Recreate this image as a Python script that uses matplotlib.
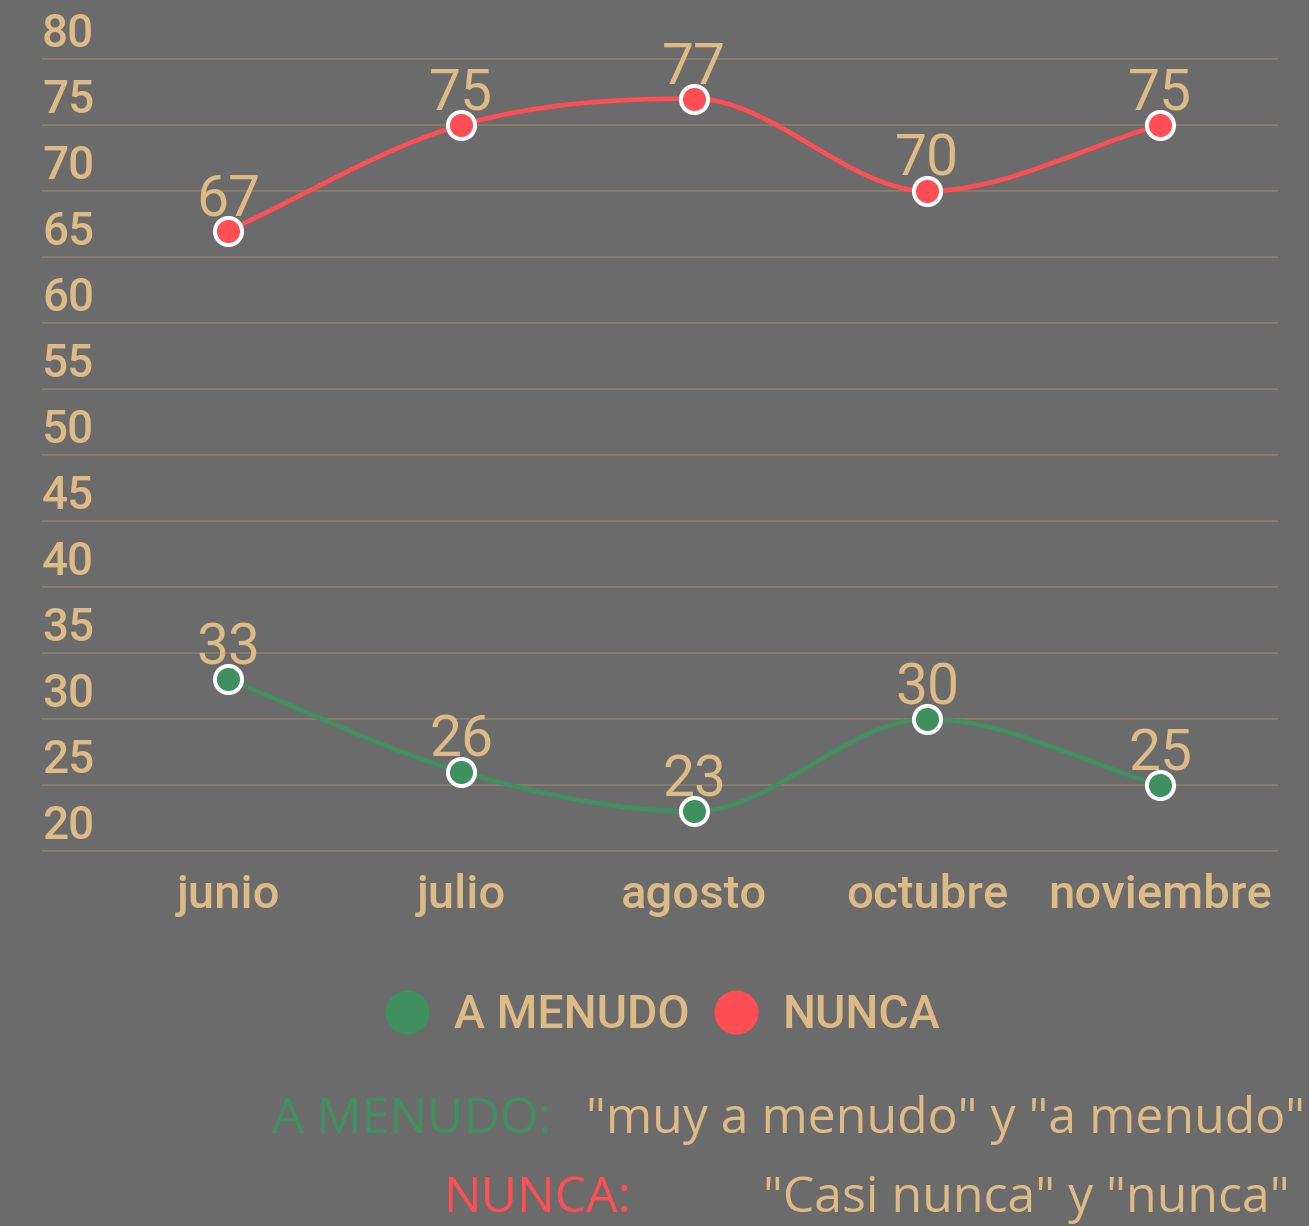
import numpy as np
import matplotlib
matplotlib.use("Agg")
import matplotlib.pyplot as plt
from matplotlib.path import Path
from matplotlib.patches import PathPatch
from matplotlib.lines import Line2D

# data
months = ["junio", "julio", "agosto", "octubre", "noviembre"]
a_menudo = [33, 26, 23, 30, 25]
nunca = [67, 75, 77, 70, 75]
y_ticks = list(range(20, 85, 5))

BG = "#6b6b6b"
TAN = "#dcbb87"
RED = "#ff4f55"
GREEN = "#3f8f5f"
GRID = "#877c6c"

W, H = 1309, 1226


def monotone_path(xs, ys):
    """Cubic bezier path with monotone tangents (Fritsch-Carlson)."""
    xs = np.asarray(xs, float); ys = np.asarray(ys, float)
    n = len(xs)
    dk = np.diff(ys) / np.diff(xs)
    m = np.zeros(n)
    m[0], m[-1] = dk[0], dk[-1]
    for i in range(1, n - 1):
        if dk[i - 1] == 0 or dk[i] == 0 or np.sign(dk[i - 1]) != np.sign(dk[i]):
            m[i] = 0.0
        else:
            m[i] = (dk[i - 1] + dk[i]) / 2
    for i in range(n - 1):
        if dk[i] == 0:
            m[i] = m[i + 1] = 0.0
            continue
        a, b = m[i] / dk[i], m[i + 1] / dk[i]
        s = a * a + b * b
        if s > 9:
            t = 3 / np.sqrt(s)
            m[i] = t * a * dk[i]
            m[i + 1] = t * b * dk[i]
    verts = [(xs[0], ys[0])]
    codes = [Path.MOVETO]
    for i in range(n - 1):
        dx = (xs[i + 1] - xs[i]) / 3
        verts += [(xs[i] + dx, ys[i] + m[i] * dx),
                  (xs[i + 1] - dx, ys[i + 1] - m[i + 1] * dx),
                  (xs[i + 1], ys[i + 1])]
        codes += [Path.CURVE4] * 3
    return Path(verts, codes)


fig = plt.figure(figsize=(W / 100, H / 100), dpi=100, facecolor=BG)
ax = fig.add_axes([42 / W, 1 - 870 / H, (1278 - 42) / W, 870 / H])
ax.set_facecolor(BG)
for s in ax.spines.values():
    s.set_visible(False)

x = np.arange(len(months))
ax.set_xlim(-0.8, 4.506)
ax.set_ylim(20 - 19 / 13.2, 80 + 59 / 13.2)
ax.set_yticks(y_ticks)
ax.grid(axis="y", color=GRID, lw=1.5)
ax.set_axisbelow(True)
ax.tick_params(left=False, labelleft=False, bottom=False, labelbottom=False)

for v in y_ticks:
    ax.annotate(str(v), xy=(0, v), xycoords=("axes fraction", "data"),
                xytext=(0, 8.6), textcoords="offset points",
                ha="left", va="baseline", color=TAN, fontsize=33,
                family="Roboto", weight="medium")

for i, m in enumerate(months):
    ax.annotate(m, xy=(x[i], 20), xytext=(0, -41), textcoords="offset points",
                ha="center", va="baseline", color=TAN, fontsize=34,
                family="Roboto", weight="medium")

for vals, col in [(a_menudo, GREEN), (nunca, RED)]:
    ax.add_patch(PathPatch(monotone_path(x, vals), fill=False, ec=col, lw=3.3, zorder=3))
    ax.plot(x, vals, ls="none", marker="o", ms=19.5, mfc=col, mec="white",
            mew=2.9, zorder=4)
    for xi, v in zip(x, vals):
        ax.annotate(str(v), xy=(xi, v), xytext=(0, 10.8), textcoords="offset points",
                    ha="center", va="baseline", color=TAN, fontsize=41,
                    family="Roboto", zorder=5)

handles = [Line2D([], [], ls="none", marker="o", ms=31.7, mfc=GREEN, mec="none"),
           Line2D([], [], ls="none", marker="o", ms=31.7, mfc=RED, mec="none")]
leg = fig.legend(handles, ["A MENUDO", "NUNCA"], loc="center",
                 bbox_to_anchor=(663 / W, 1 - 1015 / H), ncol=2, frameon=False,
                 handlelength=0.9, handletextpad=0.55, columnspacing=0.55,
                 prop={"family": "Roboto", "weight": "medium", "size": 33.5})
for t in leg.get_texts():
    t.set_color(TAN)

fnt = dict(family="Open Sans", fontsize=36, va="baseline")
fig.text(272 / W, 1 - 1133 / H, "A MENUDO:", color=GREEN, ha="left", **fnt)
fig.text(1305 / W, 1 - 1133 / H, '"muy a menudo" y "a menudo"', color=TAN, ha="right", **fnt)
fig.text(443 / W, 1 - 1212 / H, "NUNCA:", color=RED, ha="left", **fnt)
fig.text(1290 / W, 1 - 1212 / H, '"Casi nunca" y "nunca"', color=TAN, ha="right", **fnt)

fig.savefig("out.png", dpi=100, facecolor=BG)
